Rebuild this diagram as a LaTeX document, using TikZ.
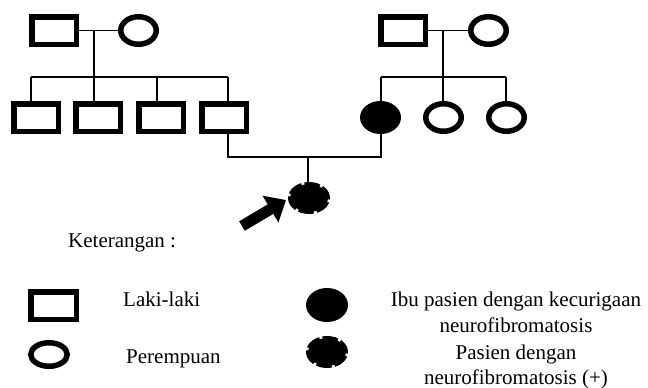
\documentclass[tikz,border=0pt]{standalone}
\usepackage{fontspec}
\setmainfont{Liberation Serif}
\usetikzlibrary{shapes.geometric,arrows.meta}
\begin{document}
\begin{tikzpicture}[x=1pt,y=-1pt,
  male/.style={draw,line width=5.5pt,rectangle,minimum width=44.5pt,minimum height=27.5pt,inner sep=0pt},
  female/.style={draw,line width=5.5pt,ellipse,minimum width=35.5pt,minimum height=27.5pt,inner sep=0pt},
  affected/.style={fill,ellipse,minimum width=41pt,minimum height=33pt,inner sep=0pt},
  link/.style={line width=1.3pt},
  notch/.style={white,line width=4pt,dash pattern=on 3pt off 16.5pt,dash phase=5pt},
  lbl/.style={font=\fontsize{21}{26}\selectfont,inner sep=0pt}]
\useasboundingbox (0,0) rectangle (648,388);

% left grandparents
\node[male] (gm1) at (54,30.5) {};
\node[female] (gf1) at (138.5,30.5) {};
\coordinate (lm) at (94,30.5);
\coordinate (ls) at (94,77);
\coordinate (ls1) at (31,77);
\coordinate (ls3) at (157,77);
\coordinate (ls4) at (228,77);
% left children
\node[male] (c1) at (36,117.5) {};
\node[male] (c2) at (98,117.5) {};
\node[male] (c3) at (161,117.5) {};
\node[male] (c4) at (224,117.5) {};

% right grandparents
\node[male] (gm2) at (403,30.5) {};
\node[female] (gf2) at (488.5,30.5) {};
\coordinate (rm) at (443,30.5);
\coordinate (rs) at (443,77);
\coordinate (rs1) at (381,77);
\coordinate (rs3) at (506,77);
% right children
\node[affected] (mom) at (380.5,117.5) {};
\node[female] (r2) at (443.5,117.5) {};
\node[female] (r3) at (506.5,117.5) {};

% patient
\node[affected,minimum width=42pt,minimum height=32pt] (pat) at (309,198) {};
\coordinate (fd) at (228,157);
\coordinate (md) at (381,157);
\coordinate (pd) at (308,157);

% connectors
\draw[link] (gm1.east) -- (gf1.west);
\draw[link] (lm) -- (ls);
\draw[link] (ls1) -- (ls4);
\draw[link] (ls1) -- (ls1 |- c1.north);
\draw[link] (ls) -- (ls |- c2.north);
\draw[link] (ls3) -- (ls3 |- c3.north);
\draw[link] (ls4) -- (ls4 |- c4.north);

\draw[link] (gm2.east) -- (gf2.west);
\draw[link] (rm) -- (rs);
\draw[link] (rs1) -- (rs3);
\draw[link] (rs1) -- (rs1 |- mom.north);
\draw[link] (rs) -- (rs |- r2.north);
\draw[link] (rs3) -- (rs3 |- r3.north);

\draw[link] (c4.south -| fd) -- (fd) -- (md) -- (mom.south -| md);
\draw[link] (pd) -- (pd |- pat.north);

% arrow
\coordinate (at) at (242,226);
\coordinate (ah) at (286,200);
\draw[line width=11pt,-{Triangle[length=18pt,width=30pt]}] (at) -- (ah);

% legend
\node[lbl,anchor=base west] (ket) at (68,247) {Keterangan :};
\node[male,minimum width=45.5pt] (lgm) at (53.5,305.5) {};
\node[female,minimum width=36.5pt,minimum height=23.5pt] (lgf) at (49,354.5) {};
\node[affected,minimum width=42pt,minimum height=34pt] (lga) at (327,305) {};
\node[affected,minimum width=42pt,minimum height=32pt] (lgp) at (327,352) {};
\foreach \n in {pat,lgp}
  \draw[notch] (\n.center) ellipse [x radius=21pt,y radius=16pt];

\node[lbl,anchor=base west] (t1) at (123,306) {Laki-laki};
\node[lbl,anchor=base west] (t2) at (126,363) {Perempuan};
\node[lbl,anchor=base] (t3) at (516,306) {Ibu pasien dengan kecurigaan};
\node[lbl,anchor=base] (t4) at (516,332) {neurofibromatosis};
\node[lbl,anchor=base] (t5) at (516,359) {Pasien dengan};
\node[lbl,anchor=base] (t6) at (516,384) {neurofibromatosis (+)};
\end{tikzpicture}
\end{document}
